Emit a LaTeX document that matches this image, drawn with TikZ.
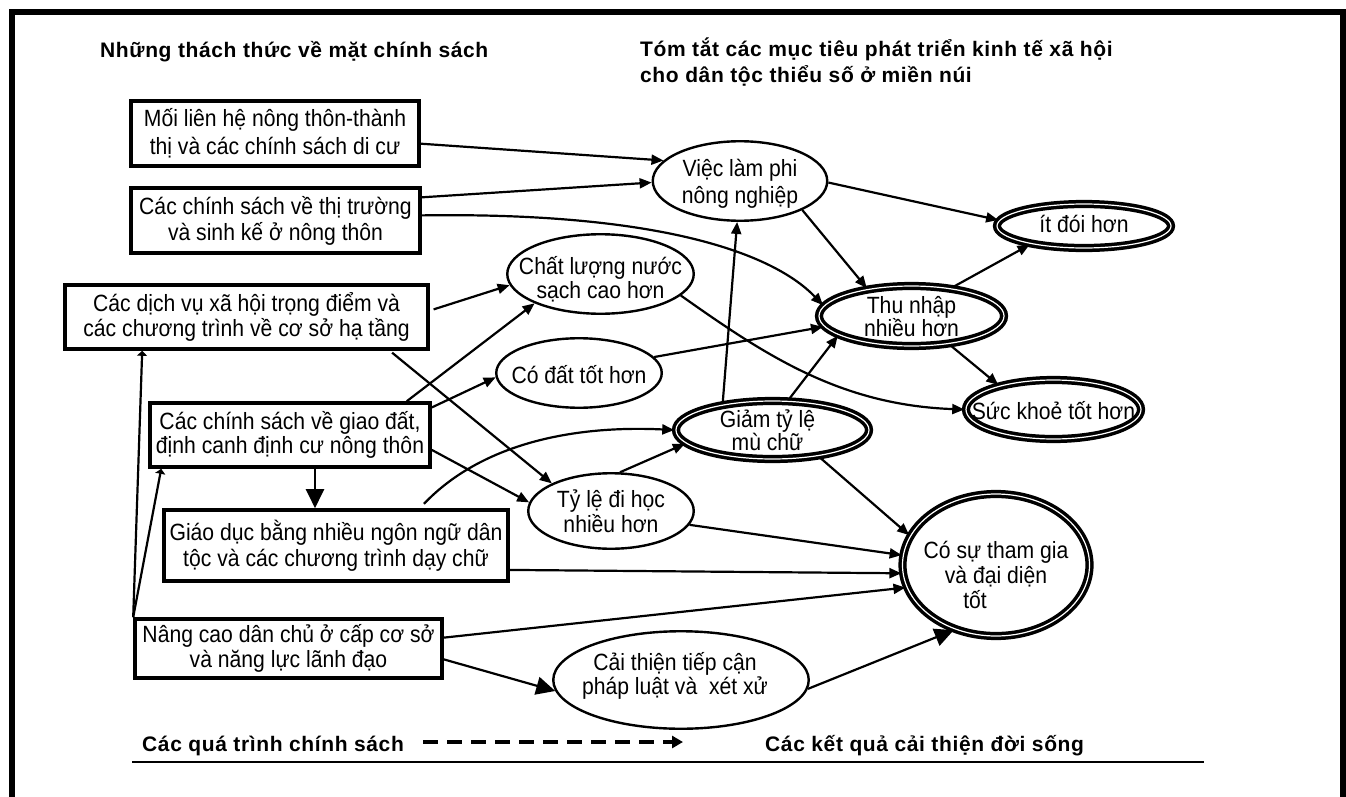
\documentclass[tikz,border=0pt]{standalone}
\usepackage{fontspec}
\setmainfont{Liberation Sans}
\newfontfamily\ttlfont[LetterSpace=3]{Liberation Sans}
\newfontfamily\bodyfont[FakeStretch=0.9]{Liberation Sans}
\usetikzlibrary{arrows.meta,shapes.geometric,calc}
\newcommand\lsp[1]{\bodyfont\fontsize{23.5}{#1}\selectfont}
\tikzset{
 box/.style={draw, line width=3.6pt, rectangle, inner sep=0pt, align=center, font=\lsp{26}},
 oval/.style={draw, line width=2.4pt, ellipse, inner sep=0pt},
 ring/.style={draw, ellipse, inner sep=0pt, line width=3.5pt, double=white, double distance=1.2pt},
 txt/.style={align=center, inner sep=0pt, font=\lsp{26}},
 ttl/.style={inner sep=0pt, font=\ttlfont\bfseries\fontsize{21}{25}\selectfont},
 con/.style={line width=2.2pt, -{Triangle[length=12pt,width=10pt]}},
 bigcon/.style={line width=2.2pt, -{Triangle[length=19pt,width=18pt]}},
 tinycon/.style={line width=2.2pt, -{Triangle[length=5pt,width=10pt]}},
}
\begin{document}
\begin{tikzpicture}[x=1pt,y=-1pt]
\useasboundingbox (0,0) rectangle (1346,797);
\draw[line width=5.5pt] (12,797) -- (12,12) -- (1343,12) -- (1343,797);

% titles
\node[ttl, anchor=base west] (h1) at (100,58) {Những thách thức về mặt chính sách};
\node[ttl, anchor=base west] (h2) at (640,57) {Tóm tắt các mục tiêu phát triển kinh tế xã hội};
\node[ttl, anchor=base west] (h3) at (640,83) {cho dân tộc thiểu số ở miền núi};

% policy boxes
\node[box, minimum width=288pt, minimum height=65pt, font=\lsp{28}] (b1) at (275,133.5) {Mối liên hệ nông thôn-thành\\thị và các chính sách di cư};
\node[box, minimum width=289pt, minimum height=65pt] (b2) at (275.5,220.5) {Các chính sách về thị trường\\và sinh kế ở nông thôn};
\node[box, minimum width=363pt, minimum height=64pt, font=\lsp{25}] (b3) at (246.5,317) {Các dịch vụ xã hội trọng điểm và\\các chương trình về cơ sở hạ tầng};
\node[box, minimum width=280pt, minimum height=64pt, font=\lsp{24}] (b4) at (290,435) {Các chính sách về giao đất,\\định canh định cư nông thôn};
\node[box, minimum width=344pt, minimum height=71pt] (b5) at (336,545.5) {Giáo dục bằng nhiều ngôn ngữ dân\\tộc và các chương trình dạy chữ};
\node[box, minimum width=307pt, minimum height=59pt, font=\lsp{25}] (b6) at (288.5,648.5) {Nâng cao dân chủ ở cấp cơ sở\\và năng lực lãnh đạo};

% outcome shapes
\node[oval, minimum width=174.5pt, minimum height=79.5pt] (e1) at (740,181) {};
\node[oval, minimum width=186.5pt, minimum height=79.5pt] (e2) at (600.5,274) {};
\node[oval, minimum width=165.5pt, minimum height=69.5pt] (e3) at (579,373) {};
\node[ring, minimum width=193pt, minimum height=58pt] (e4) at (772.5,430) {};
\node[oval, minimum width=165.5pt, minimum height=75.5pt] (e5) at (611,511) {};
\node[oval, minimum width=255.5pt, minimum height=97.5pt] (e6) at (681,680) {};
\node[ring, minimum width=187pt, minimum height=142pt] (e7) at (996,565) {};
\node[ring, minimum width=185pt, minimum height=60pt] (e8) at (911.5,316) {};
\node[ring, minimum width=174pt, minimum height=44pt] (e9) at (1084,226) {};
\node[ring, minimum width=175pt, minimum height=59pt] (e10) at (1053.5,409.5) {};

\node[txt, font=\lsp{27}] (e1t) at ([yshift=-2.5pt]e1.center) {Việc làm phi\\nông nghiệp};
\node[txt, font=\lsp{24}] (e2t) at ([yshift=-5pt]e2.center) {Chất lượng nước\\sạch cao hơn};
\node[txt] (e3t) at ([yshift=-2pt]e3.center) {Có đất tốt hơn};
\node[txt, font=\lsp{23}] (e4t) at ([xshift=-5pt,yshift=-0.5pt]e4.center) {Giảm tỷ lệ\\mù chữ};
\node[txt, font=\lsp{25}] (e5t) at (e5.center) {Tỷ lệ đi học\\nhiều hơn};
\node[txt, font=\lsp{24}] (e6t) at ([xshift=-6pt,yshift=4pt]e6.center) {Cải thiện tiếp cận\\pháp luật và\ \ xét xử};
\node[txt, font=\lsp{25}] (e7t) at ([yshift=-10pt]e7.center) {Có sự tham gia\\và đại diện\\tốt\hspace*{42pt}};
\node[txt, font=\lsp{23}] (e8t) at ([yshift=-0.5pt]e8.center) {Thu nhập\\nhiều hơn};
\node[txt] (e9t) at ([yshift=2pt]e9.center) {ít đói hơn};
\node[txt] (e10t) at ([yshift=-1.5pt]e10.center) {Sức khoẻ tốt hơn};

% connectors
\draw[con] (b1.-4) -- (e1.165);
\draw[con] (b2.9) -- (e1.181);
\draw[con] (b2.2) .. controls (650,212) and (770,250) .. (e8.173);
\draw[con] (e1.-1) -- (e9.176);
\draw[con] (e1.-25) -- (e8.148);
\draw[con] (e4.152) -- (e1.-94);
\draw[con] (e4.62) -- (e8.195);
\draw[con] (e8.35) -- (e9.199);
\draw[con] (e8.-37) -- (e10.156);
\draw[con] (e2.-15) .. controls (765,355) and (840,405) .. (e10.180);
\draw[con] (e3.12) -- (e8.187);
\draw[con, shorten <=4pt] (b3.2) -- (e2.187);
\draw[con, shorten <=3pt] ([xshift=-40pt]b3.south east) -- (e5.155);
\draw[con] ([xshift=-25pt]b4.north east) -- (e2.204);
\draw[con] (b4.11) -- (e3.183);
\draw[con] (b4.-6) -- (e5.174);
\draw[con, shorten <=6pt] ([xshift=-90pt]b5.north east) .. controls (480,445) and (570,425) .. (e4.180);
\draw[con] (e5.77) -- (e4.189);
\draw[bigcon] ([xshift=25pt]b4.south) -- ([xshift=25pt]b4.south |- b5.north);
\draw[tinycon] (b6.north west) -- ([xshift=79pt]b3.south west);
\draw[tinycon] (b6.north west) -- ([xshift=13pt]b4.south west);
\draw[bigcon] (b6.-4) -- (e6.185);
\draw[con] (e4.-30) -- (e7.161);
\draw[con] (e5.-10) -- (e7.174);
\draw[con] (b5.-8) -- (e7.185);
\draw[con] (b6.4) -- (e7.194);
\draw[bigcon] (e6.-4) -- (e7.237);

% legend
\node[ttl, anchor=base west] (lp) at (142,751) {Các quá trình chính sách};
\node[ttl, anchor=base west] (lr) at (765,751) {Các kết quả cải thiện đời sống};
\draw[line width=4pt, dash pattern=on 15pt off 9pt, -{Triangle[length=11pt,width=12pt]}]
  ([xshift=19pt,yshift=9pt]lp.base east) -- ([xshift=-82pt,yshift=9pt]lr.base west);
\draw[line width=2pt] (132,762) -- (1204,762);
\end{tikzpicture}
\end{document}
